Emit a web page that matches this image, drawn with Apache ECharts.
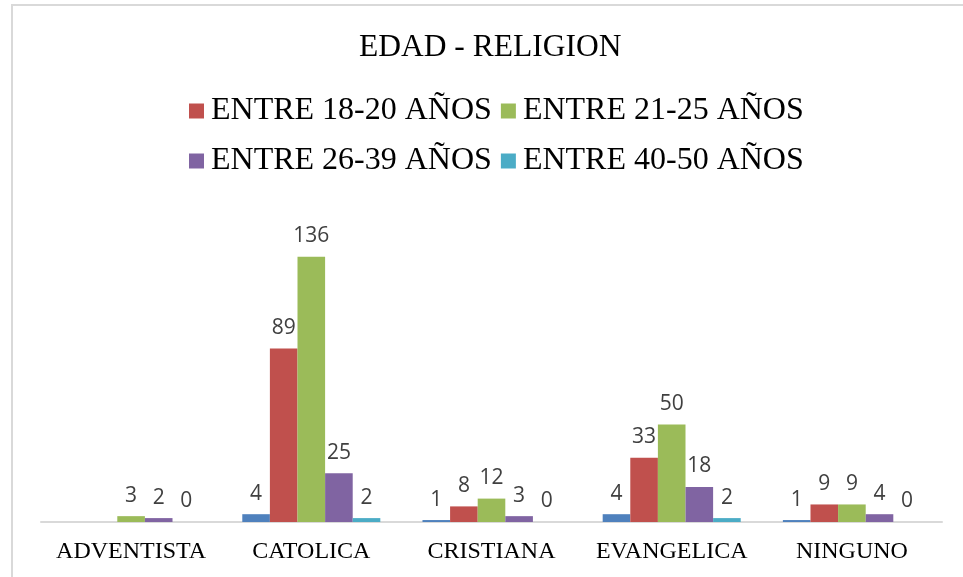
<!DOCTYPE html>
<html>
<head>
<meta charset="utf-8">
<title>EDAD - RELIGION</title>
<script src="https://cdn.jsdelivr.net/npm/echarts@6/dist/echarts.min.js"></script>
<style>
  html, body { margin: 0; padding: 0; background: #fff; }
  #chart { width: 963px; height: 577px; }
</style>
</head>
<body>
<div id="chart"></div>
<script>
// categorias (religion)
const categories = ['ADVENTISTA', 'CATOLICA', 'CRISTIANA', 'EVANGELICA', 'NINGUNO']

// series por grupo de edad ('-' = sin dato)
const sinNombre = ['-', 4, 1, 4, 1] // serie azul, sin entrada en la leyenda
const entre18a20 = ['-', 89, 8, 33, 9]
const entre21a25 = [3, 136, 12, 50, 9]
const entre26a39 = [2, 25, 3, 18, 4]
const entre40a50 = [0, 2, 0, 2, 0]

const serieNames = ['', 'ENTRE 18-20 AÑOS', 'ENTRE 21-25 AÑOS', 'ENTRE 26-39 AÑOS', 'ENTRE 40-50 AÑOS']
const serieData = [sinNombre, entre18a20, entre21a25, entre26a39, entre40a50]
const colors = ['#4F81BD', '#C0504D', '#9BBB59', '#8064A2', '#4BACC6']

const chart = echarts.init(document.getElementById('chart'))

const legendText = {
  fontFamily: '"Liberation Serif", "Times New Roman", serif',
  fontSize: 32,
  color: '#000',
  padding: [0, 0, 0, 2]
}

chart.setOption({
  animation: false,
  // marco del grafico
  graphic: [{
    type: 'rect',
    shape: { x: 12, y: 5, width: 1000, height: 620 },
    style: { fill: 'none', stroke: '#D9D9D9', lineWidth: 2 },
    silent: true
  }],
  title: {
    text: 'EDAD - RELIGION',
    left: 354,
    top: 27,
    textStyle: {
      fontFamily: '"Liberation Serif", "Times New Roman", serif',
      fontSize: 31.5,
      fontWeight: 'normal',
      color: '#000'
    }
  },
  legend: [{
    data: [serieNames[1], serieNames[2]],
    left: 184,
    top: 90,
    itemWidth: 15,
    itemHeight: 15,
    itemGap: 9,
    icon: 'rect',
    textStyle: legendText
  }, {
    data: [serieNames[3], serieNames[4]],
    left: 184,
    top: 140,
    itemWidth: 15,
    itemHeight: 15,
    itemGap: 9,
    icon: 'rect',
    textStyle: legendText
  }],
  grid: {
    left: 41,
    right: 21,
    top: 210,
    bottom: 55
  },
  xAxis: {
    type: 'category',
    data: categories,
    axisLine: { lineStyle: { color: '#D9D9D9', width: 2 } },
    axisTick: { show: false },
    axisLabel: {
      interval: 0,
      margin: 18,
      fontFamily: '"Liberation Serif", "Times New Roman", serif',
      fontSize: 24,
      color: '#000'
    }
  },
  yAxis: {
    type: 'value',
    min: 0,
    max: 160,
    show: false,
    splitLine: { show: false }
  },
  series: serieData.map((d, i) => ({
    name: serieNames[i],
    type: 'bar',
    data: d,
    barGap: '0%',
    barCategoryGap: '23.4%',
    itemStyle: { color: colors[i] },
    label: {
      show: true,
      position: 'top',
      distance: 10,
      fontFamily: '"Open Sans", "Liberation Sans", sans-serif',
      fontSize: 21,
      color: '#404040'
    }
  }))
})
</script>
</body>
</html>
